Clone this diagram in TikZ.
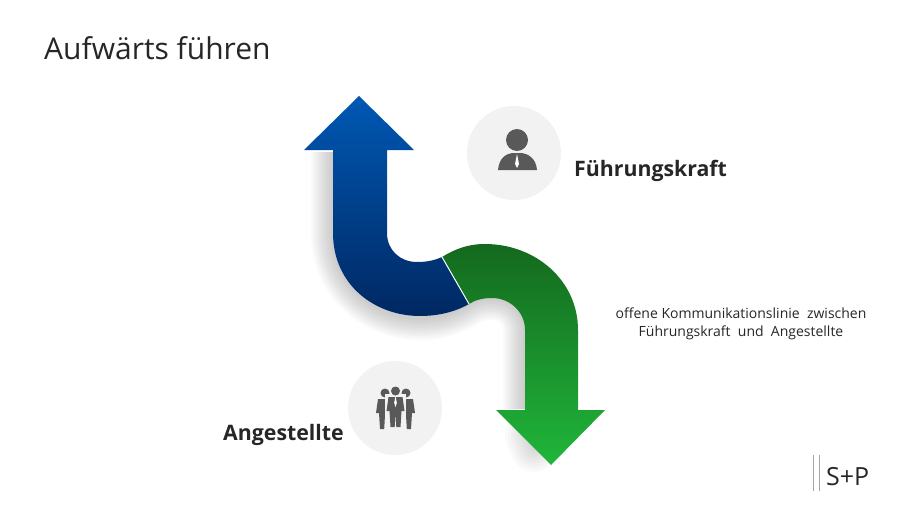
\documentclass[tikz,border=0pt]{standalone}
\usepackage{fontspec}
\setmainfont{Open Sans}
\definecolor{icongray}{HTML}{595959}
\definecolor{circlegray}{HTML}{F2F2F2}
\definecolor{textgray}{HTML}{262626}
\definecolor{bluetop}{RGB}{0,88,180}
\definecolor{bluebottom}{RGB}{0,40,98}
\definecolor{greentop}{RGB}{20,105,30}
\definecolor{greenbottom}{RGB}{32,182,58}
\newcommand{\bluepath}{(359,96) -- (414,150) -- (387,150) -- (387,233)
  .. controls (387,250) and (400,262) .. (417,262)
  .. controls (425,262) and (433,261) .. (442,257) -- (469,304)
  .. controls (455,312) and (438,316) .. (420,316)
  .. controls (375,316) and (333,285) .. (333,233) -- (333,150) -- (304,150) -- cycle}
\newcommand{\greenpath}{(442,257)
  .. controls (455,249) and (468,244) .. (485,244)
  .. controls (535,244) and (578,280) .. (578,330) -- (578,410) -- (605,410) -- (551,465)
  -- (496,410) -- (525,410) -- (525,330)
  .. controls (525,312) and (510,298) .. (492,298)
  .. controls (483,298) and (475,300) .. (469,304) -- cycle}
\tikzset{
  iconcircle/.style={circle, fill=circlegray, minimum size=94pt, inner sep=0pt},
  rolelabel/.style={font=\fontsize{21.3}{25}\selectfont\bfseries, text=textgray, inner sep=0pt},
  softshadow/.style={draw=black, opacity=0.02},
  pics/worker/.style={code={
    \fill[icongray] (0,-14) circle (4.5);
    \fill[icongray] (-7,-8) -- (7,-8) -- (9,6) -- (6,6) -- (5,22) -- (0.8,22) -- (0,8)
      -- (-0.8,22) -- (-5,22) -- (-6,6) -- (-9,6) -- cycle;
  }}
}
\begin{document}
\begin{tikzpicture}[x=1pt, y=-1pt]
  \useasboundingbox (0,0) rectangle (911,514);

  % Title
  \node[anchor=base west, inner sep=0pt, text=textgray, font=\fontsize{30}{36}\selectfont] (title) at (44,59) {Aufwärts führen};

  % Shadows
  \foreach \w in {4,8,...,44} {
    \draw[softshadow, line width=\w pt] (333,152) -- (333,233)
      .. controls (333,285) and (375,318) .. (420,318)
      .. controls (438,318) and (452,314) .. (465,306)
      .. controls (474,300) and (483,298) .. (492,298)
      .. controls (510,298) and (525,312) .. (525,330) -- (525,409);
  }
  \foreach \w in {6,12,...,48} {
    \draw[softshadow, line width=\w pt, line cap=round] (529,435) -- (534,448);
  }

  % Arrows
  \shade[top color=bluetop, bottom color=bluebottom] \bluepath;
  \shade[top color=greentop, bottom color=greenbottom] \greenpath;
  \draw[white, line width=1pt] (442,257) -- (469,304);

  % Circles
  \node[iconcircle] (leadcircle) at (514,153) {};
  \node[iconcircle] (staffcircle) at (395,408) {};

  % Leader icon
  \fill[icongray] (517,140) circle (11);
  \fill[icongray] (498,170) .. controls (499,158) and (506,154) .. (512,153) -- (522,153)
    .. controls (528,154) and (536,158) .. (537,170) -- cycle;
  \fill[white] (517,154) -- (519,164) -- (517,168) -- (515,164) -- cycle;

  % Staff icon
  \pic at (385,407) {worker};
  \pic at (406,407) {worker};
  \begin{scope}[shift={(395.5,405)}, scale=1.12]
    \fill[circlegray] (-9.5,-10) rectangle (9.5,22);
    \pic {worker};
    \fill[white] (0,-8) -- (1.2,-2) -- (0,2) -- (-1.2,-2) -- cycle;
  \end{scope}

  % Labels
  \node[rolelabel, anchor=west] (leadlabel) at (574,171) {Führungskraft};
  \node[rolelabel, anchor=west] (stafflabel) at (223,435) {Angestellte};
  \node[align=center, inner sep=0pt, text=textgray, font=\fontsize{14}{18}\selectfont] (note) at (741,324)
    {offene Kommunikationslinie\ \ zwischen\\Führungskraft\ \ und\ \ Angestellte};

  % Logo
  \draw[gray!70, line width=1pt] (813,455) -- (813,491);
  \draw[gray!70, line width=1pt] (819,455) -- (819,491);
  \node[anchor=west, inner sep=0pt, text=textgray, font=\fontsize{25}{30}\selectfont] (logo) at (826,477) {S+P};
\end{tikzpicture}
\end{document}
